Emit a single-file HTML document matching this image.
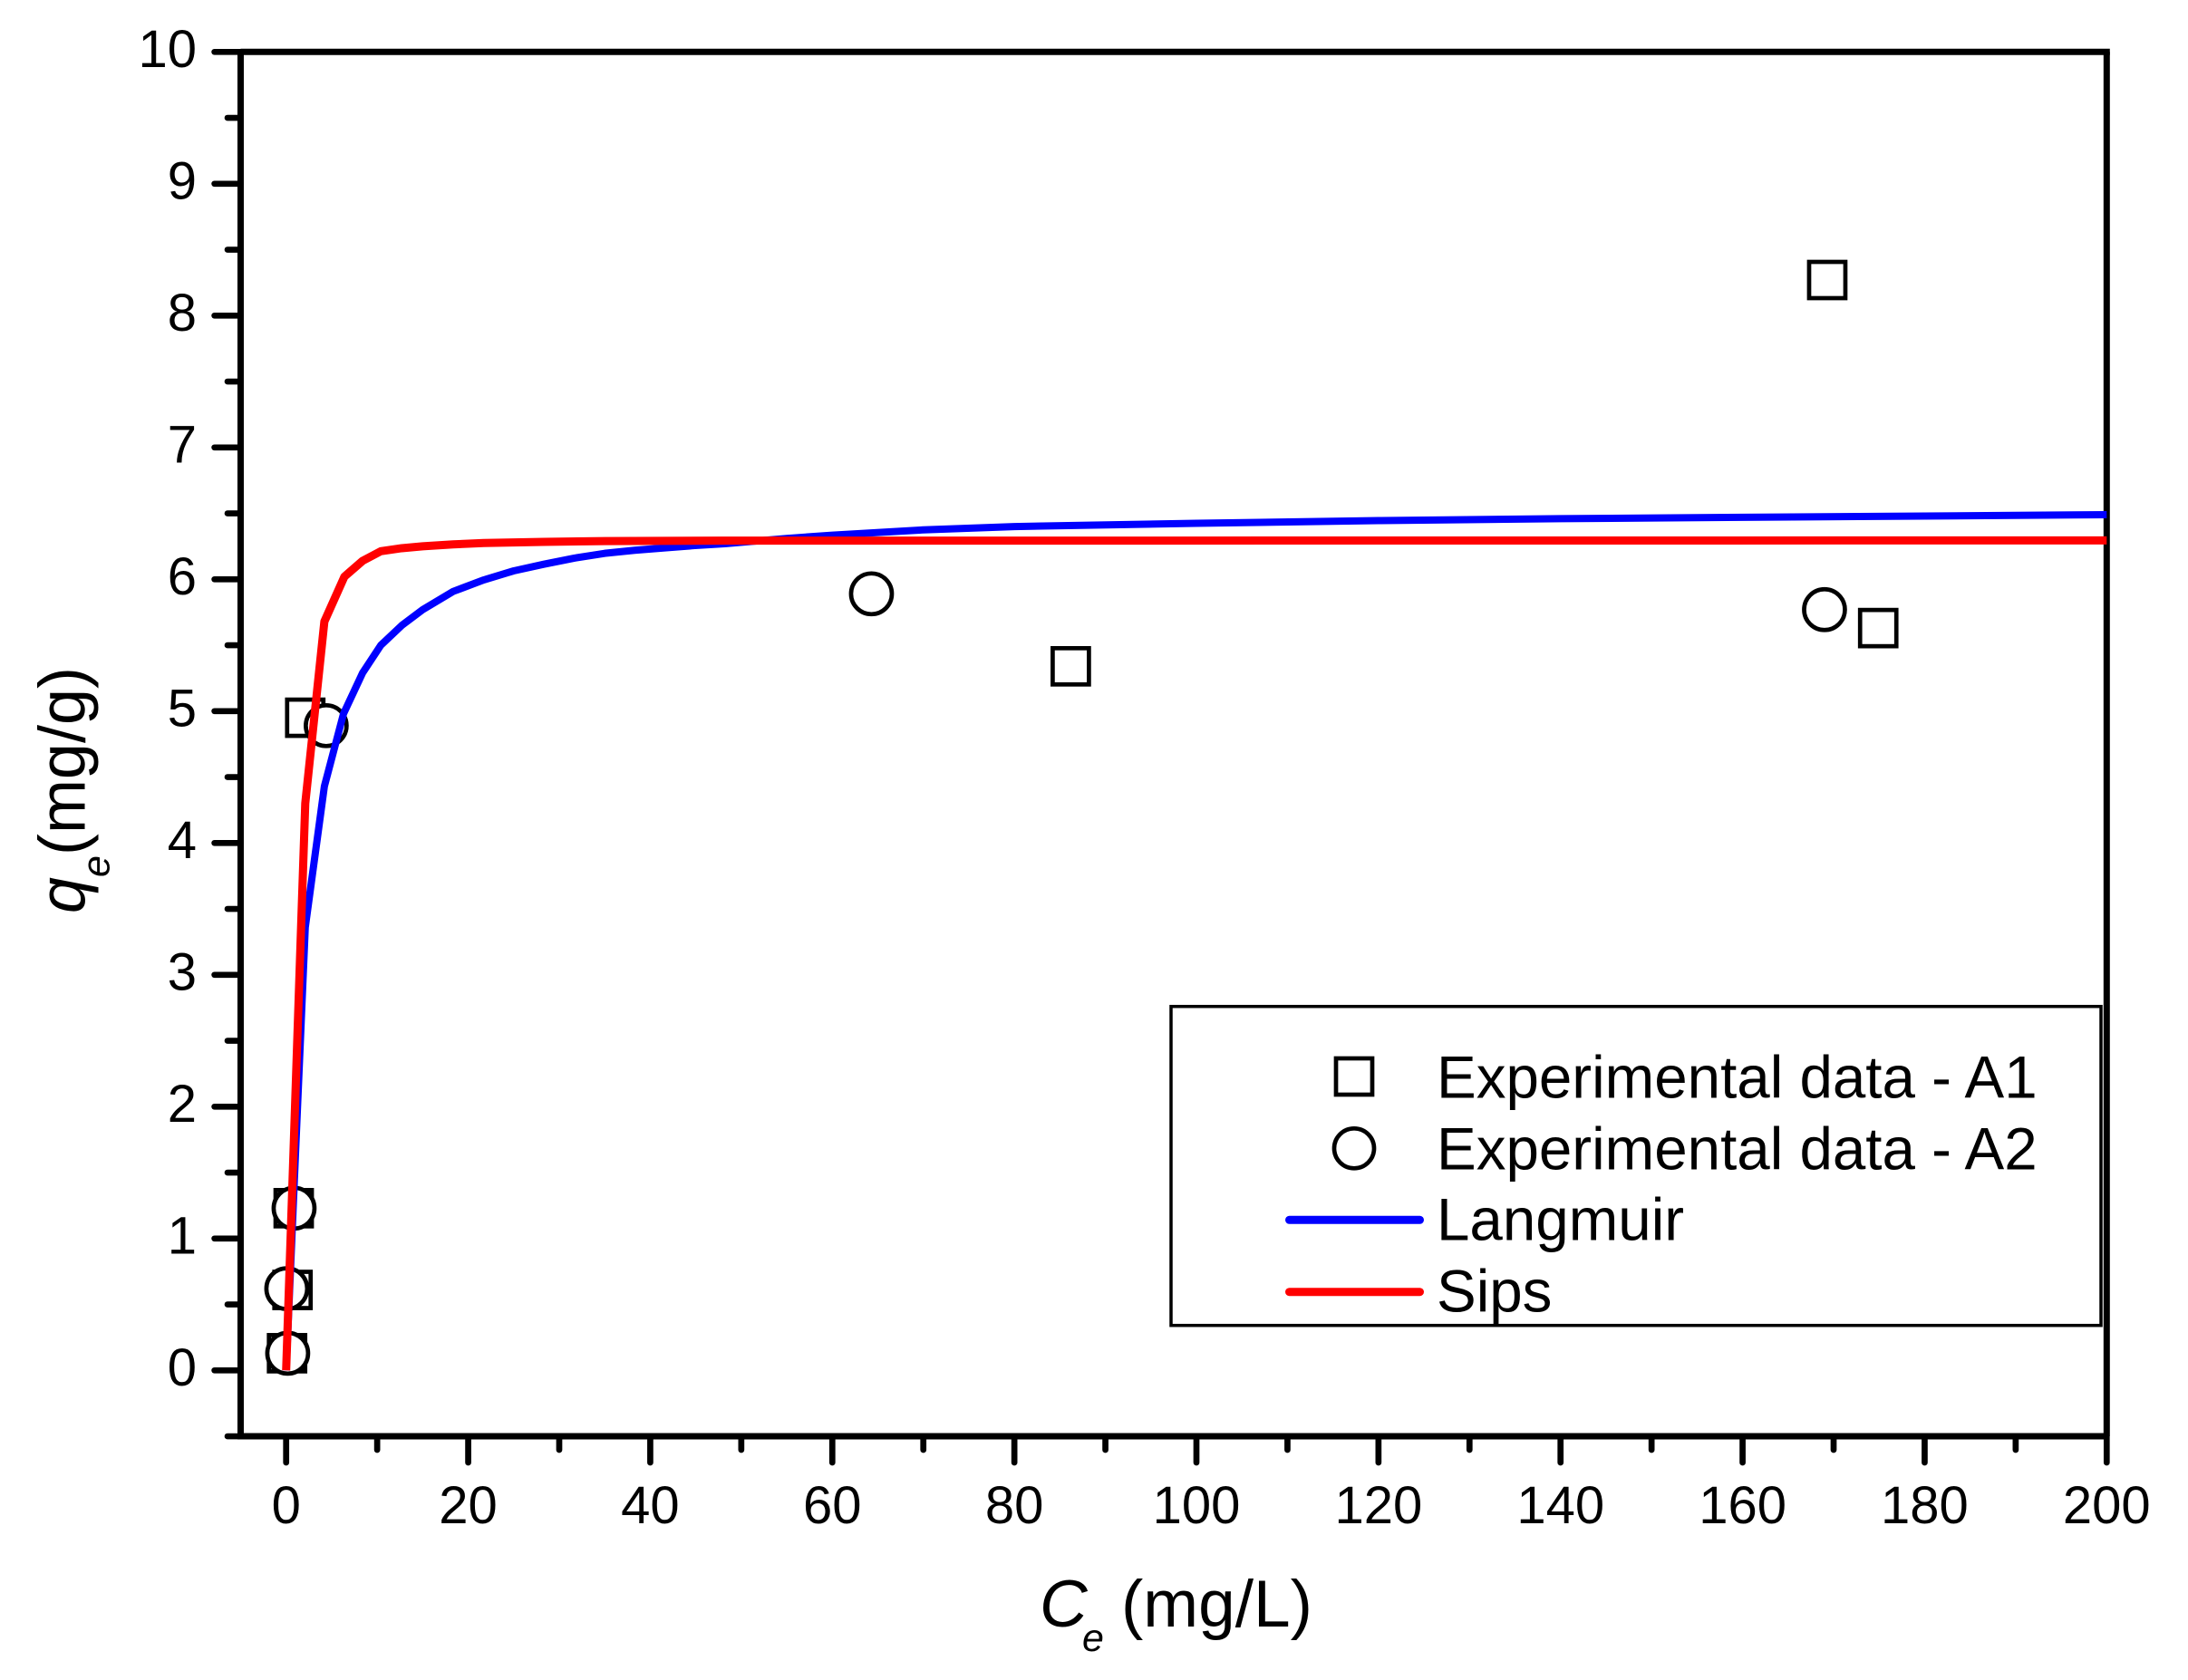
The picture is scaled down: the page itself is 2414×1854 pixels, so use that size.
<!DOCTYPE html>
<html lang="en">
<head>
<meta charset="utf-8">
<title>Adsorption isotherm chart</title>
<style>
html,body{margin:0;padding:0;background:#fff;}
svg{display:block;font-family:"Liberation Sans",Arial,sans-serif;}
</style>
</head>
<body>
<svg id="chart" xmlns="http://www.w3.org/2000/svg" width="2414" height="1854" viewBox="0 0 2414 1854">
  <rect x="0" y="0" width="2414" height="1854" fill="#fff"/>
  <g id="axes"></g>
  <g id="markers"></g>
  <g id="curves"></g>

  <text x="1147" y="1795" font-size="73" fill="#000"><tspan font-style="italic">C</tspan><tspan x="1194" dy="27" font-size="43" font-style="italic">e</tspan><tspan x="1237" dy="-27">(mg/L)</tspan></text>
  <text transform="translate(93.3,1008) rotate(-90)" font-size="72" fill="#000"><tspan font-style="italic">q</tspan><tspan dy="27" font-size="43" font-style="italic">e</tspan><tspan dy="-27">(mg/g)</tspan></text>

  <g>
    <rect x="1292" y="1110.7" width="1026" height="352" fill="#fff" stroke="#000" stroke-width="3.5"/>
    <rect x="1474" y="1168" width="40" height="40" fill="#fff" stroke="#000" stroke-width="4.7"/>
    <text x="1585" y="1211.7" font-size="65.5" fill="#000">Experimental data - A1</text>
    <circle cx="1494" cy="1267.3" r="22" fill="#fff" stroke="#000" stroke-width="4.7"/>
    <text x="1585" y="1290.7" font-size="65.5" fill="#000">Experimental data - A2</text>
    <line x1="1422.5" x2="1566.5" y1="1346.3" y2="1346.3" stroke="#0000ff" stroke-width="9" stroke-linecap="round"/>
    <text x="1585" y="1368.7" font-size="65.5" fill="#000">Langmuir</text>
    <line x1="1422.5" x2="1566.5" y1="1425.7" y2="1425.7" stroke="#ff0000" stroke-width="9" stroke-linecap="round"/>
    <text x="1585" y="1447.7" font-size="65.5" fill="#000">Sips</text>
  </g>
</svg>
<script>
var xMajorTicks = [0, 20, 40, 60, 80, 100, 120, 140, 160, 180, 200];
var xMinorTicks = [10, 30, 50, 70, 90, 110, 130, 150, 170, 190];
var yMajorTicks = [0, 1, 2, 3, 4, 5, 6, 7, 8, 9, 10];
var yMinorTicks = [-0.5, 0.5, 1.5, 2.5, 3.5, 4.5, 5.5, 6.5, 7.5, 8.5, 9.5];

var a1X = [0.1, 0.7, 0.83, 2.1, 86.2, 169.3, 174.9];
var a1Y = [0.13, 0.61, 1.23, 4.95, 5.34, 8.27, 5.63];
var a2X = [0.17, 0.07, 0.87, 4.4, 64.3, 169.0];
var a2Y = [0.13, 0.62, 1.23, 4.89, 5.89, 5.77];

var langmuirX = [0, 2.1, 4.2, 6.3, 8.4, 10.4, 12.7, 15, 18.35, 21.7, 25, 28.3, 31.6, 35, 38.3, 41.6, 44.9, 48.2, 55, 60, 70, 80, 100, 120, 140, 160, 180, 200];
var langmuirY = [0, 3.36, 4.43, 4.98, 5.29, 5.5, 5.65, 5.77, 5.908, 5.995, 6.064, 6.114, 6.16, 6.197, 6.22, 6.238, 6.256, 6.27, 6.31, 6.335, 6.375, 6.4, 6.425, 6.445, 6.46, 6.47, 6.48, 6.49];
var sipsX = [0, 2.1, 4.2, 6.4, 8.4, 10.4, 12.7, 15, 18.35, 21.7, 28.3, 35, 48, 200];
var sipsY = [0, 4.3, 5.68, 6.02, 6.14, 6.213, 6.236, 6.25, 6.265, 6.275, 6.284, 6.29, 6.293, 6.295];

var SVG_NS = 'http://www.w3.org/2000/svg';

function xScale(v) { return 315.7 + v * 10.043; }
function yScale(v) { return 1512.3 - v * 145.5; }

function line(parent, x1, y1, x2, y2, width, cap) {
  var el = document.createElementNS(SVG_NS, 'line');
  el.setAttribute('x1', x1);
  el.setAttribute('y1', y1);
  el.setAttribute('x2', x2);
  el.setAttribute('y2', y2);
  el.setAttribute('stroke', '#000');
  el.setAttribute('stroke-width', width);
  el.setAttribute('stroke-linecap', cap);
  parent.appendChild(el);
  return el;
}

var axes = document.getElementById('axes');

var spineTop = line(axes, xScale(-5), yScale(10), xScale(200) + 3.5, yScale(10), 7, 'butt');


var spineBottom = line(axes, xScale(-5), yScale(-0.5), xScale(200), yScale(-0.5), 7, 'butt');


var spineLeft = line(axes, xScale(-5), yScale(10), xScale(-5), yScale(-0.5) + 3.5, 7, 'butt');


var spineRight = line(axes, xScale(200), yScale(10), xScale(200), yScale(-0.5), 7, 'butt');



xMajorTicks.forEach(function (v) {
  var t = line(axes, xScale(v), yScale(-0.5), xScale(v), 1614, 6.7, 'round');
  
  
  var label = document.createElementNS(SVG_NS, 'text');
  
  
  label.setAttribute('x', xScale(v));
  label.setAttribute('y', 1681);
  label.setAttribute('font-size', '58');
  label.setAttribute('text-anchor', 'middle');
  label.textContent = String(v);
  axes.appendChild(label);
});
xMinorTicks.forEach(function (v) {
  var t = line(axes, xScale(v), yScale(-0.5), xScale(v), 1600, 6.7, 'round');
  
  
});
yMajorTicks.forEach(function (v) {
  var t = line(axes, 236.6, yScale(v), xScale(-5), yScale(v), 6.7, 'round');
  
  
  var label = document.createElementNS(SVG_NS, 'text');
  
  
  label.setAttribute('x', 217);
  label.setAttribute('y', yScale(v) + 16.5);
  label.setAttribute('font-size', '58');
  label.setAttribute('text-anchor', 'end');
  label.textContent = String(v);
  axes.appendChild(label);
});
yMinorTicks.forEach(function (v) {
  var t = line(axes, 251, yScale(v), xScale(-5), yScale(v), 6.7, 'round');
  
  
});

var markers = document.getElementById('markers');
a1X.forEach(function (v, i) {
  var sq = document.createElementNS(SVG_NS, 'rect');
  
  
  sq.setAttribute('x', xScale(v) - 20);
  sq.setAttribute('y', yScale(a1Y[i]) - 20);
  sq.setAttribute('width', 40);
  sq.setAttribute('height', 40);
  sq.setAttribute('fill', '#fff');
  sq.setAttribute('stroke', '#000');
  sq.setAttribute('stroke-width', 4.7);
  markers.appendChild(sq);
});
a2X.forEach(function (v, i) {
  var c = document.createElementNS(SVG_NS, 'circle');
  
  
  c.setAttribute('cx', xScale(v));
  c.setAttribute('cy', yScale(a2Y[i]));
  c.setAttribute('r', 22.5);
  c.setAttribute('fill', '#fff');
  c.setAttribute('stroke', '#000');
  c.setAttribute('stroke-width', 4.7);
  markers.appendChild(c);
});

function pathFrom(xs, ys) {
  return xs.map(function (v, i) {
    return (i ? 'L' : 'M') + xScale(v).toFixed(2) + ' ' + yScale(ys[i]).toFixed(2);
  }).join(' ');
}

var curves = document.getElementById('curves');
var langmuirPath = document.createElementNS(SVG_NS, 'path');


langmuirPath.setAttribute('d', pathFrom(langmuirX, langmuirY));
langmuirPath.setAttribute('fill', 'none');
langmuirPath.setAttribute('stroke', '#0000ff');
langmuirPath.setAttribute('stroke-width', 8);
langmuirPath.setAttribute('stroke-linejoin', 'round');
curves.appendChild(langmuirPath);

var sipsPath = document.createElementNS(SVG_NS, 'path');


sipsPath.setAttribute('d', pathFrom(sipsX, sipsY));
sipsPath.setAttribute('fill', 'none');
sipsPath.setAttribute('stroke', '#ff0000');
sipsPath.setAttribute('stroke-width', 9);
sipsPath.setAttribute('stroke-linejoin', 'round');
curves.appendChild(sipsPath);
</script>
</body>
</html>
